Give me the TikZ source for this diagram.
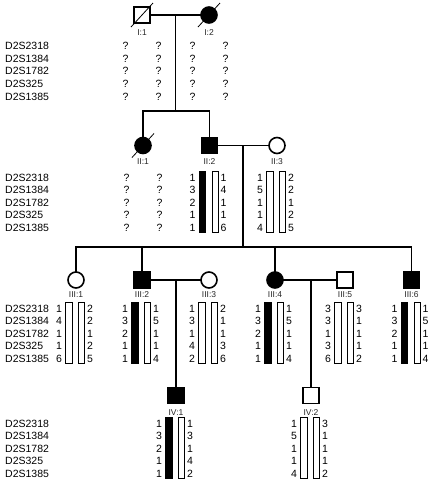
\documentclass[tikz,border=0pt]{standalone}
\usepackage{fontspec}
\setmainfont{Liberation Sans}
\tikzset{
  x=1pt, y=-1pt,
  conn/.style={line width=1.6pt, line join=miter, line cap=rect},
  male/.style={draw, rectangle, line width=1.6pt, minimum size=16pt, inner sep=0pt},
  female/.style={draw, circle, line width=1.6pt, minimum size=16pt, inner sep=0pt},
  aff/.style={fill=black},
  lab/.style={font=\fontsize{8.5}{9}\selectfont, text=black!85, inner sep=0pt},
  num/.style={font=\fontsize{10.5}{12}\selectfont, inner sep=0pt},
  mk/.style={num, anchor=west},
  barbox/.style={draw, line width=0.8pt},
  decline/.style={line width=0.8pt}
}
\newcommand\haplo[6]{% #1 name, #2 cx, #3 row1 y, #4 fill of bar 1, #5 left alleles, #6 right alleles
  \draw[barbox, fill=#4] ({#2-10.5},{#3-6}) rectangle ({#2-4},{#3+54.5});
  \draw[barbox] ({#2+2.5},{#3-6}) rectangle ({#2+8.5},{#3+54.5});
  \foreach \v [count=\i from 0] in {#5} \node[num] (#1l\i) at ({#2-17},{#3+\i*12.6}) {\v};
  \foreach \v [count=\i from 0] in {#6} \node[num] (#1r\i) at ({#2+14},{#3+\i*12.6}) {\v};
}
\newcommand\qmarks[3]{% #1 name, #2 cx, #3 row1 y
  \foreach \i in {0,...,4} {
    \node[num] (#1ql\i) at ({#2-16.5},{#3+\i*12.6}) {?};
    \node[num] (#1qr\i) at ({#2+16.5},{#3+\i*12.6}) {?};
  }
}
\newcommand\markers[2]{% #1 name, #2 row1 y
  \foreach \m [count=\i from 0] in {D2S2318,D2S1384,D2S1782,D2S325,D2S1385}
    \node[mk] (#1m\i) at (5,{#2+\i*12.6}) {\m};
}
\begin{document}
\begin{tikzpicture}
\useasboundingbox (0,0) rectangle (434,483);

% Generation I
\node[male] (I1) at (142,15) {};
\node[female,aff] (I2) at (209,15) {};
\draw[decline] (131,27) -- (153,3);
\draw[decline] (198,27) -- (220,3);
\node[lab] (I1lab) at (142,33) {I:1};
\node[lab] (I2lab) at (209,33) {I:2};
\draw[conn] (I1) -- (I2);
\coordinate (m1) at (175.5,15);
\coordinate (s1) at (175.5,111);
\draw[conn] (m1) -- (s1);
\markers{g1}{46}
\qmarks{I1}{142}{46}
\qmarks{I2}{209}{46}

% Generation II
\node[female,aff] (II1) at (143,145.5) {};
\node[male,aff] (II2) at (209.5,145.5) {};
\node[female] (II3) at (277,145.5) {};
\draw[decline] (132,157.5) -- (154,133.5);
\draw[conn] (II1.north) -- (II1.north |- s1) -- (II2.north |- s1) -- (II2.north);
\draw[conn] (II2) -- (II3);
\node[lab] (II1lab) at (143,161.7) {II:1};
\node[lab] (II2lab) at (209.5,161.7) {II:2};
\node[lab] (II3lab) at (277,161.7) {II:3};
\markers{g2}{177.5}
\qmarks{II1}{143}{177.5}
\haplo{II2}{209.5}{177.5}{black}{1,3,2,1,1}{1,4,1,1,6}
\haplo{II3}{277}{177.5}{white}{1,5,1,1,4}{2,2,1,2,5}
\coordinate (m2) at (243,145.5);
\coordinate (s2) at (243,247);
\draw[conn] (m2) -- (s2);

% Generation III
\node[female] (III1) at (76,280) {};
\node[male,aff] (III2) at (142,280) {};
\node[female] (III3) at (209,280) {};
\node[female,aff] (III4) at (275,280) {};
\node[male] (III5) at (345,280) {};
\node[male,aff] (III6) at (411.5,280) {};
\draw[conn] (III1.north) -- (III1.north |- s2) -- (III6.north |- s2) -- (III6.north);
\draw[conn] (III2.north) -- (III2.north |- s2);
\draw[conn] (III4.north) -- (III4.north |- s2);
\draw[conn] (III2) -- (III3);
\draw[conn] (III4) -- (III5);
\node[lab] (III1lab) at (76,295) {III:1};
\node[lab] (III2lab) at (142,295) {III:2};
\node[lab] (III3lab) at (209,295) {III:3};
\node[lab] (III4lab) at (275,295) {III:4};
\node[lab] (III5lab) at (345,295) {III:5};
\node[lab] (III6lab) at (411.5,295) {III:6};
\markers{g3}{308.5}
\haplo{III1}{76}{308.5}{white}{1,4,1,1,6}{2,2,1,2,5}
\haplo{III2}{142}{308.5}{black}{1,3,2,1,1}{1,5,1,1,4}
\haplo{III3}{209}{308.5}{white}{1,3,1,4,2}{2,1,1,3,6}
\haplo{III4}{275}{308.5}{black}{1,3,2,1,1}{1,5,1,1,4}
\haplo{III5}{345}{308.5}{white}{3,3,1,3,6}{3,1,1,1,2}
\haplo{III6}{411.5}{308.5}{black}{1,3,2,1,1}{1,5,1,1,4}
\coordinate (m3) at (176,280);
\coordinate (m4) at (311,280);

% Generation IV
\node[male,aff] (IV1) at (176,395.5) {};
\node[male] (IV2) at (311,395.5) {};
\draw[conn] (m3) -- (IV1.north);
\draw[conn] (m4) -- (IV2.north);
\node[lab] (IV1lab) at (176,412.7) {IV:1};
\node[lab] (IV2lab) at (311,412.7) {IV:2};
\markers{g4}{423.5}
\haplo{IV1}{176}{423.5}{black}{1,3,2,1,1}{1,3,1,4,2}
\haplo{IV2}{311}{423.5}{white}{1,5,1,1,4}{3,1,1,1,2}
\end{tikzpicture}
\end{document}
